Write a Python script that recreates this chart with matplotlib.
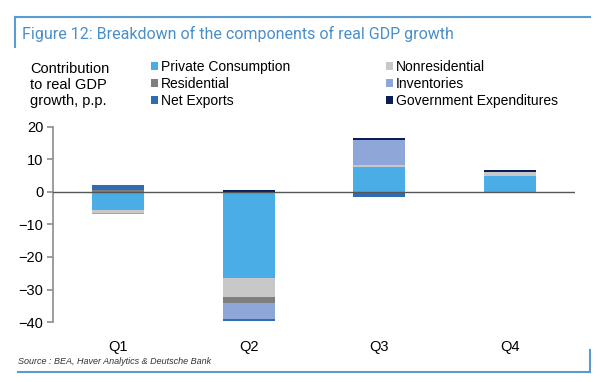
import numpy as np
import matplotlib.pyplot as plt
from matplotlib.lines import Line2D

plt.rcParams['font.family'] = ['Liberation Sans', 'DejaVu Sans']

quarters = ['Q1', 'Q2', 'Q3', 'Q4']
private_consumption = [-5.4, -26.6, 7.8, 4.9]
nonresidential = [-1.0, -5.7, 0.4, 1.3]
residential = [0.7, -1.7, 0.0, 0.0]
inventories = [-0.4, -5.0, 7.9, 0.0]
net_exports = [1.4, -0.7, -1.4, -0.3]
government = [0.0, 0.6, 0.6, 0.7]

series = [
    ('Private Consumption', private_consumption, '#4aade6'),
    ('Nonresidential', nonresidential, '#c8c8c8'),
    ('Residential', residential, '#7f7f7f'),
    ('Inventories', inventories, '#8fa7d8'),
    ('Net Exports', net_exports, '#2f6db3'),
    ('Government Expenditures', government, '#0b1d57'),
]

fig = plt.figure(figsize=(6, 3.82), dpi=100)
ax = fig.add_axes([53 / 600, 1 - 322 / 382, 522 / 600, 195 / 382])

x = np.arange(len(quarters))
pos_base = np.zeros(len(quarters))
neg_base = np.zeros(len(quarters))
bars = {}
for name, vals, color in series:
    vals = np.array(vals)
    base = np.where(vals >= 0, pos_base, neg_base)
    bars[name] = ax.bar(x, vals, bottom=base, width=0.4, color=color, label=name,
                        linewidth=0, zorder=2)
    pos_base += np.clip(vals, 0, None)
    neg_base += np.clip(vals, None, 0)

ax.axhline(0, color='#555555', lw=1, zorder=3)

ax.set_xlim(-0.5, 3.5)
ax.set_ylim(-40, 20)
ax.set_yticks([20, 10, 0, -10, -20, -30, -40])
ax.set_xticks(x)
ax.set_xticklabels(quarters)
for s in ['top', 'right', 'bottom']:
    ax.spines[s].set_visible(False)
ax.spines['left'].set_color('#8c8c8c')
ax.spines['left'].set_linewidth(1.2)
ax.tick_params(axis='y', colors='#8c8c8c', length=4, width=1.2, labelcolor='black',
               labelsize=10.5, pad=3)
ax.tick_params(axis='x', length=0, labelsize=10.5, pad=13)

# legend, two columns
order = ['Private Consumption', 'Residential', 'Net Exports',
         'Nonresidential', 'Inventories', 'Government Expenditures']
handles = [bars[n] for n in order]
fig.legend(handles, order, loc='upper left', bbox_to_anchor=(151 / 600, 1 - 60 / 382),
           ncol=2, frameon=False, fontsize=10, handlelength=0.5, handleheight=0.5,
           handletextpad=0.2, labelspacing=0.22, columnspacing=6.9,
           borderpad=0, borderaxespad=0)

fig.text(30 / 600, 1 - 62 / 382, 'Contribution\nto real GDP\ngrowth, p.p.',
         fontsize=10.5, va='top', ha='left', linespacing=1.2)

# title and frame
fig.text(22 / 600, 1 - 34 / 382, 'Figure 12: Breakdown of the components of real GDP growth',
         fontsize=11.5, color='#4a8fc7', va='center', ha='left',
         family=['Roboto', 'DejaVu Sans'])
frame_color = '#5b9bd0'
fig.add_artist(Line2D([15 / 600, 590 / 600], [1 - 17 / 382, 1 - 17 / 382],
                      color=frame_color, lw=1.5, transform=fig.transFigure))
fig.add_artist(Line2D([15 / 600, 15 / 600], [1 - 17 / 382, 1 - 47 / 382],
                      color=frame_color, lw=1.5, transform=fig.transFigure))
fig.add_artist(Line2D([18 / 600, 590 / 600], [1 - 372 / 382, 1 - 372 / 382],
                      color=frame_color, lw=1.5, transform=fig.transFigure))
fig.add_artist(Line2D([590 / 600, 590 / 600], [1 - 372 / 382, 1 - 350 / 382],
                      color=frame_color, lw=1.5, transform=fig.transFigure))

fig.text(18 / 600, 1 - 361 / 382, 'Source : BEA, Haver Analytics & Deutsche Bank',
         fontsize=6.5, style='italic', color='#333333', va='center', ha='left')

fig.savefig('out.png', dpi=100)
